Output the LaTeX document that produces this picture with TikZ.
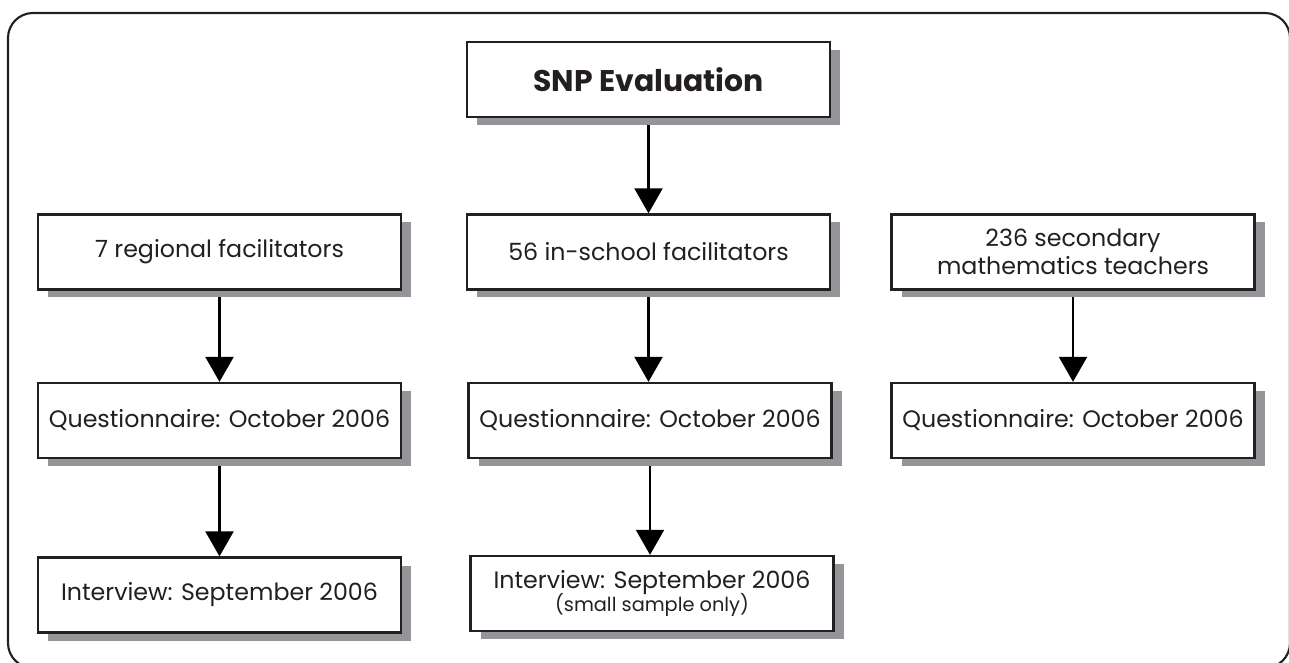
\documentclass[tikz,border=0pt]{standalone}
\usepackage{fontspec}
\setmainfont{Poppins}
\usepackage{tikz}
\usetikzlibrary{shadows,arrows.meta,backgrounds}
\definecolor{inkdark}{HTML}{231F20}
\definecolor{shadowgray}{HTML}{939598}

\begin{document}
\begin{tikzpicture}[color=inkdark,
		box/.style={draw=inkdark, line width=1.3pt, fill=white, minimum width=7.26cm, minimum height=1.5cm, inner sep=2pt, align=center, font=\fontsize{13.5}{16}\selectfont, drop shadow={shadow xshift=0.2cm, shadow yshift=-0.16cm, fill=shadowgray, opacity=1}},
		arr/.style={line width=1.2pt, -{Triangle[width=0.56cm,length=0.5cm]}}]
							\useasboundingbox (0,0) rectangle (25.78,-13.26);
							\draw[line width=1.2pt, rounded corners=0.5cm] (0.16,-0.26) rectangle (25.8,-13.36);
							
							\node[box, font=\fontsize{17}{20}\selectfont\bfseries] (snp) at (12.97,-1.59) {SNP Evaluation};
							
							\node[box] (reg) at (4.39,-5.04) {7 regional facilitators};
							\node[box] (ins) at (12.97,-5.04) {56 in-school facilitators};
							\node[box] (sec) at (21.46,-5.04) {236 secondary\\mathematics teachers};
							
							\node[box] (regq) at (4.39,-8.41) {Questionnaire: October 2006};
							\node[box] (insq) at (13.0,-8.41) {Questionnaire: October 2006};
							\node[box] (secq) at (21.46,-8.41) {Questionnaire: October 2006};
							
							\node[box] (regi) at (4.39,-11.9) {Interview: September 2006};
							\node[box] (insi) at (13.04,-11.87) {Interview: September 2006\\[-3pt]{\fontsize{11}{13}\selectfont (small sample only)}};
							
							\begin{scope}[on background layer]
							\draw[arr] (snp) -- (ins);
							\draw[arr] (reg) -- (regq);
							\draw[arr] (regq) -- (regi);
							\draw[arr] (ins.south) -- (ins.south |- insq.north);
							\draw[arr] (insq.south) -- (insq.south |- insi.north);
							\draw[arr] (sec) -- (secq);
							\end{scope}
					\end{tikzpicture}
\end{document}
